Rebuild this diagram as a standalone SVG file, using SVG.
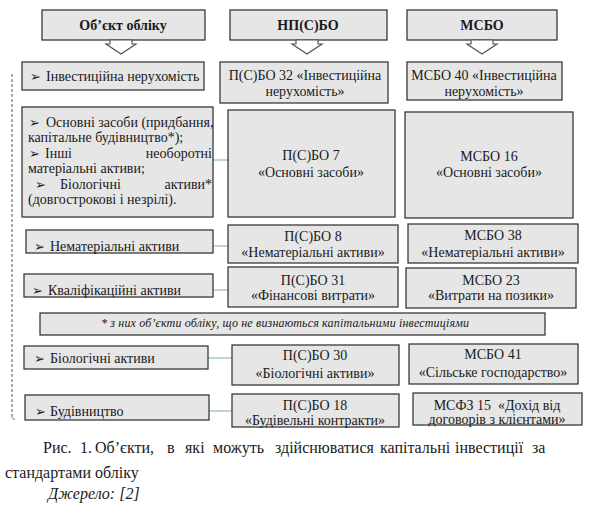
<svg xmlns="http://www.w3.org/2000/svg" width="590" height="510" viewBox="0 0 590 510" font-family="'Liberation Serif', 'Times New Roman', Tinos, 'DejaVu Serif', serif" font-size="14">
<style>
.box{fill:#e6e6e6;stroke:#3a3a3a;stroke-width:1.3}
.arr{fill:#ffffff;stroke:#555555;stroke-width:1.2}
text{fill:#1a1a1a}
.c{text-anchor:middle}
.e{text-anchor:end}
.b{font-weight:bold}
.sym{font-family:"DejaVu Sans",sans-serif;font-size:13px}
.fn{font-style:italic;font-size:12px}
.cap{font-size:16px}
.conn{stroke:#7fa7c2;stroke-width:1;fill:none}
</style>
<rect width="590" height="510" fill="#ffffff"/>
<g id="dashed-bracket">
<line x1="12" y1="74" x2="12" y2="416" stroke="#7a7a7a" stroke-width="1.3" stroke-dasharray="3 2"/>
<path d="M12 416 Q12 420 15 419" fill="none" stroke="#7a7a7a" stroke-width="1"/>
</g>
<g id="header-object">
<rect class="box" x="42" y="10" width="163" height="30"/>
<text class="c b" x="123" y="30">Об’єкт обліку</text>
<polygon class="arr" points="110,40 110,44 106,44 121,54 136,44 132,44 132,40"/>
</g>
<g id="header-npsbo">
<rect class="box" x="230" y="10" width="157" height="30"/>
<text class="c b" x="308" y="30">НП(С)БО</text>
<polygon class="arr" points="296,40 296,44 292,44 307,54 322,44 318,44 318,40"/>
</g>
<g id="header-msbo">
<rect class="box" x="407" y="10" width="150" height="30"/>
<text class="c b" x="482" y="30">МСБО</text>
<polygon class="arr" points="471,40 471,44 467,44 482,54 497,44 493,44 493,40"/>
</g>
<g id="connectors">
<line class="conn" x1="213" y1="160" x2="228" y2="160"/>
<line class="conn" x1="213" y1="246" x2="228" y2="246"/>
<line class="conn" x1="213" y1="290" x2="228" y2="290"/>
<line class="conn" x1="208" y1="358" x2="232" y2="358"/>
<line class="conn" x1="209" y1="411" x2="232" y2="411"/>
</g>
<g id="obj-invest">
<rect class="box" x="22" y="62" width="182" height="28"/>
<text class="sym" x="30" y="81">➢</text>
<text x="46" y="81">Інвестиційна нерухомість</text>
</g>
<g id="npsbo-32">
<rect class="box" x="220" y="62" width="168" height="41"/>
<text class="c" x="305" y="80">П(С)БО 32 «Інвестиційна</text>
<text class="c" x="305" y="96">нерухомість»</text>
</g>
<g id="msbo-40">
<rect class="box" x="407" y="62" width="155" height="38"/>
<text class="c" x="484" y="80">МСБО 40 «Інвестиційна</text>
<text class="c" x="484" y="96">нерухомість»</text>
</g>
<g id="obj-fixed">
<rect class="box" x="22" y="107" width="191" height="110"/>
<text class="sym" x="29" y="127">➢</text>
<text x="46" y="127">Основні засоби (придбання,</text>
<text x="28" y="142">капітальне будівництво*);</text>
<text class="sym" x="29" y="158">➢</text>
<text x="45" y="158">Інші</text>
<text class="e" x="212" y="158">необоротні</text>
<text x="28" y="173">матеріальні активи;</text>
<text class="sym" x="35" y="189">➢</text>
<text x="60" y="189">Біологічні</text>
<text class="e" x="212" y="189">активи*</text>
<text x="28" y="204">(довгострокові і незрілі).</text>
</g>
<g id="npsbo-7">
<rect class="box" x="228" y="110" width="167" height="107"/>
<text class="c" x="311" y="160">П(С)БО 7</text>
<text class="c" x="311" y="177">«Основні засоби»</text>
</g>
<g id="msbo-16">
<rect class="box" x="405" y="112" width="168" height="106"/>
<text class="c" x="489" y="161">МСБО 16</text>
<text class="c" x="489" y="177">«Основні засоби»</text>
</g>
<g id="obj-intangible">
<rect class="box" x="26" y="230" width="187" height="23"/>
<text class="sym" x="34" y="251">➢</text>
<text x="50" y="251">Нематеріальні активи</text>
</g>
<g id="npsbo-8">
<rect class="box" x="228" y="225" width="170" height="38"/>
<text class="c" x="313" y="241">П(С)БО 8</text>
<text class="c" x="313" y="257">«Нематеріальні активи»</text>
</g>
<g id="msbo-38">
<rect class="box" x="408" y="224" width="170" height="39"/>
<text class="c" x="493" y="240">МСБО 38</text>
<text class="c" x="493" y="257">«Нематеріальні активи»</text>
</g>
<g id="obj-qualifying">
<rect class="box" x="24" y="274" width="189" height="23"/>
<text class="sym" x="32" y="295">➢</text>
<text x="48" y="295">Кваліфікаційні активи</text>
</g>
<g id="npsbo-31">
<rect class="box" x="228" y="267" width="170" height="40"/>
<text class="c" x="313" y="285">П(С)БО 31</text>
<text class="c" x="313" y="300">«Фінансові витрати»</text>
</g>
<g id="msbo-23">
<rect class="box" x="406" y="268" width="170" height="40"/>
<text class="c" x="491" y="285">МСБО 23</text>
<text class="c" x="491" y="300">«Витрати на позики»</text>
</g>
<g id="footnote">
<rect class="box" x="40" y="313" width="505" height="22"/>
<text class="fn" x="101" y="327" textLength="368" lengthAdjust="spacing">* з них об’єкти обліку, що не визнаються капітальними інвестиціями</text>
</g>
<g id="obj-bio">
<rect class="box" x="24" y="346" width="184" height="23"/>
<text class="sym" x="34" y="363">➢</text>
<text x="50" y="363">Біологічні активи</text>
</g>
<g id="npsbo-30">
<rect class="box" x="232" y="345" width="167" height="40"/>
<text class="c" x="315" y="360">П(С)БО 30</text>
<text class="c" x="315" y="378">«Біологічні активи»</text>
</g>
<g id="msbo-41">
<rect class="box" x="409" y="344" width="169" height="40"/>
<text class="c" x="493" y="359">МСБО 41</text>
<text class="c" x="493" y="377">«Сільське господарство»</text>
</g>
<g id="obj-construction">
<rect class="box" x="25" y="395" width="184" height="25"/>
<text class="sym" x="35" y="416">➢</text>
<text x="50" y="416">Будівництво</text>
</g>
<g id="npsbo-18">
<rect class="box" x="232" y="394" width="167" height="33"/>
<text class="c" x="315" y="410">П(С)БО 18</text>
<text class="c" x="315" y="425">«Будівельні контракти»</text>
</g>
<g id="msfz-15">
<rect class="box" x="413" y="393" width="169" height="32"/>
<text class="c" x="497" y="410" xml:space="preserve">МСФЗ 15  «Дохід від</text>
<text class="c" x="497" y="424">договорів з клієнтами»</text>
</g>
<g id="caption">
<text class="cap" y="453"><tspan x="43">Рис.</tspan><tspan x="80">1.</tspan><tspan x="95">Об’єкти,</tspan><tspan x="167">в</tspan><tspan x="185">які</tspan><tspan x="213">можуть</tspan><tspan x="275">здійснюватися</tspan><tspan x="380">капітальні</tspan><tspan x="455">інвестиції</tspan><tspan x="532">за</tspan></text>
<text class="cap" x="5" y="478">стандартами обліку</text>
<text class="cap" x="48" y="499" font-style="italic">Джерело: [2]</text>
</g>
</svg>
